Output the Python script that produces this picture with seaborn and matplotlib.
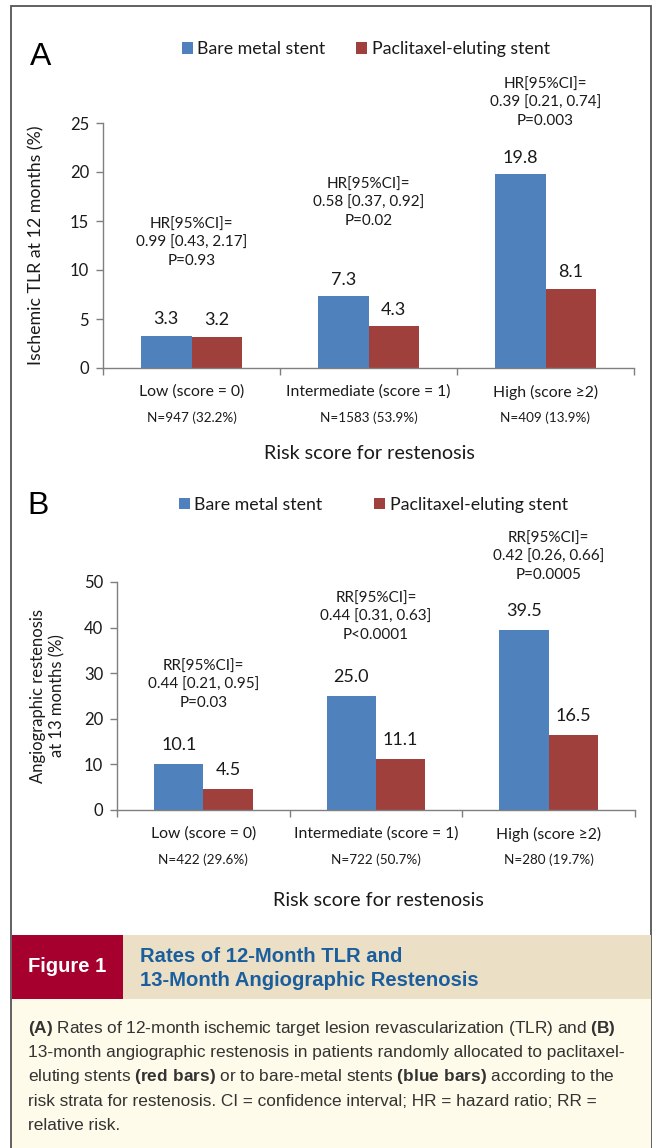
import matplotlib
matplotlib.use("Agg")
import matplotlib.pyplot as plt
import matplotlib.patches as mpatches
import pandas as pd
import seaborn as sns

# ---------------- data ----------------
categories = ["Low (score = 0)", "Intermediate (score = 1)", "High (score \u22652)"]
stents = ["Bare metal stent", "Paclitaxel-eluting stent"]

tlr_bare = [3.3, 7.3, 19.8]
tlr_pes = [3.2, 4.3, 8.1]
n_tlr = ["N=947 (32.2%)", "N=1583 (53.9%)", "N=409 (13.9%)"]
stats_tlr = ["HR[95%CI]=\n0.99 [0.43, 2.17]\nP=0.93",
             "HR[95%CI]=\n0.58 [0.37, 0.92]\nP=0.02",
             "HR[95%CI]=\n0.39 [0.21, 0.74]\nP=0.003"]
yticks_tlr = [0, 5, 10, 15, 20, 25]

rest_bare = [10.1, 25.0, 39.5]
rest_pes = [4.5, 11.1, 16.5]
n_rest = ["N=422 (29.6%)", "N=722 (50.7%)", "N=280 (19.7%)"]
stats_rest = ["RR[95%CI]=\n0.44 [0.21, 0.95]\nP=0.03",
              "RR[95%CI]=\n0.44 [0.31, 0.63]\nP<0.0001",
              "RR[95%CI]=\n0.42 [0.26, 0.66]\nP=0.0005"]
yticks_rest = [0, 10, 20, 30, 40, 50]

caption_title = ["Rates of 12-Month TLR and", "13-Month Angiographic Restenosis"]
caption_body = [
    r"$\mathbf{(A)}$ Rates of 12-month ischemic target lesion revascularization (TLR) and $\mathbf{(B)}$",
    "13-month angiographic restenosis in patients randomly allocated to paclitaxel-",
    r"eluting stents $\mathbf{(red\ bars)}$ or to bare-metal stents $\mathbf{(blue\ bars)}$ according to the",
    "risk strata for restenosis. CI = confidence interval; HR = hazard ratio; RR =",
    "relative risk.",
]

# ---------------- style ----------------
sns.set_style("white")
plt.rcParams['font.family'] = ['Lato', 'DejaVu Sans']
plt.rcParams['mathtext.fontset'] = 'custom'
plt.rcParams['mathtext.rm'] = 'Liberation Sans'
plt.rcParams['mathtext.bf'] = 'Liberation Sans:bold'

BLUE = '#4F81BD'
RED = '#A0403D'
AXC = '#7F7F7F'
TXT = '#1a1a1a'
CAP = ['Liberation Sans', 'DejaVu Sans']

W, H = 656, 1148
fig = plt.figure(figsize=(W / 100, H / 100), dpi=100)
fig.patch.set_facecolor('white')


def fx(x):
    return x / W


def fy(y):
    return 1 - y / H


def rect_px(l, t, r, b):
    return [l / W, 1 - b / H, (r - l) / W, (b - t) / H]


def panel(rect, bare, pes, yticks, ylabel, ylabel_x, ylabel_fs, nlabels,
          stats, stat_y, legend_xy, colspace, xlabel_xy, val_pad):
    ax = fig.add_axes(rect)
    df = pd.DataFrame({
        'risk': categories * 2,
        'value': bare + pes,
        'stent': [stents[0]] * len(bare) + [stents[1]] * len(pes),
    })
    sns.barplot(data=df, x='risk', y='value', hue='stent', order=categories,
                hue_order=stents, palette=[BLUE, RED], width=0.57,
                saturation=1, errorbar=None, linewidth=0, ax=ax)
    ax.set_xlim(-0.5, len(categories) - 0.5)
    ax.set_ylim(yticks[0], yticks[-1])
    ax.set_yticks(yticks)
    ax.set_xticks(range(len(categories)))
    ax.set_xticklabels(categories, fontsize=11.3, color=TXT)
    ax.set_xticks([i - 0.5 for i in range(len(categories) + 1)], minor=True)
    ax.tick_params(axis='x', which='major', bottom=True, length=0, pad=12)
    ax.tick_params(axis='x', which='minor', bottom=True, length=5,
                   direction='out', color=AXC, width=1)
    ax.tick_params(axis='y', left=True, length=5, direction='out', color=AXC,
                   width=1, pad=5, labelsize=12, labelcolor=TXT)
    for s in ['top', 'right']:
        ax.spines[s].set_visible(False)
    for s in ['left', 'bottom']:
        ax.spines[s].set_color(AXC)
        ax.spines[s].set_linewidth(1)

    for c in ax.containers:
        ax.bar_label(c, fmt='%.1f', padding=val_pad, fontsize=13, color=TXT)

    for i, (s, y) in enumerate(zip(stats, stat_y)):
        ax.text(i, y, s, ha='center', va='center', fontsize=11,
                linespacing=1.38, color=TXT, clip_on=False)

    for i, n in enumerate(nlabels):
        ax.annotate(n, xy=(i, 0), xycoords=('data', 'axes fraction'),
                    xytext=(0, -36), textcoords='offset points',
                    ha='center', va='center', fontsize=9.7, color=TXT)

    ax.set_ylabel(ylabel, fontsize=ylabel_fs, color=TXT, va='center',
                  ha='center', linespacing=1.3)
    ax.yaxis.set_label_coords(ylabel_x, 0.5)
    ax.set_xlabel("Risk score for restenosis", fontsize=14.2, color=TXT,
                  va='center', ha='center')
    ax.xaxis.set_label_coords(*xlabel_xy)

    sns.move_legend(ax, 'center', bbox_to_anchor=legend_xy, ncol=2,
                    title=None, frameon=False, fontsize=12.8,
                    handlelength=0.62, handleheight=0.62, handletextpad=0.25,
                    columnspacing=colspace)
    for t in ax.get_legend().get_texts():
        t.set_color(TXT)
    return ax


# ---------------- frame ----------------
fig.patches.append(mpatches.Rectangle((fx(11), fy(1170)), (651 - 11) / W,
                                      (1170 - 6) / H, fill=False,
                                      ec='#555555', lw=1.3,
                                      transform=fig.transFigure, clip_on=False))

# ---------------- panel A ----------------
axA = panel(rect_px(103, 123, 634, 368), tlr_bare, tlr_pes, yticks_tlr,
            "Ischemic TLR at 12 months (%)", -0.126, 12.8, n_tlr, stats_tlr,
            [12.75, 16.85, 27.05], (0.495, 1.302), 1.75, (0.501, -0.347), 6)
fig.text(fx(41), fy(57), "A", fontsize=23, ha='center', va='center',
         family=CAP, color='black')

# ---------------- panel B ----------------
axB = panel(rect_px(117, 582, 635, 810), rest_bare, rest_pes, yticks_rest,
            "Angiographic restenosis\nat 13 months (%)", -0.134, 12, n_rest,
            stats_rest, [27.4, 42.3, 55.5], (0.495, 1.338), 2.9,
            (0.504, -0.399), 8)
fig.text(fx(38), fy(506), "B", fontsize=23, ha='center', va='center',
         family=CAP, color='black')

# ---------------- caption ----------------
fig.patches.append(mpatches.Rectangle((fx(12), fy(1160)), (651 - 12) / W,
                                      (1160 - 999) / H, fc='#FEFBEA', ec='none',
                                      transform=fig.transFigure))
fig.patches.append(mpatches.Rectangle((fx(12), fy(999)), (651 - 12) / W,
                                      (999 - 935) / H, fc='#EBDFC6', ec='none',
                                      transform=fig.transFigure))
fig.patches.append(mpatches.Rectangle((fx(12), fy(999)), (123 - 12) / W,
                                      (999 - 935) / H, fc='#A6002F', ec='none',
                                      transform=fig.transFigure))
fig.text(fx(67), fy(967), "Figure 1", fontsize=14.5, fontweight='bold',
         color='white', ha='center', va='center', family=CAP)
for line, yc in zip(caption_title, [955, 980]):
    fig.text(fx(140), fy(yc + 6.5), line, fontsize=14.6, fontweight='bold',
             color='#1B5E9E', ha='left', va='baseline', family=CAP)
for line, yc in zip(caption_body, [1028, 1052, 1076, 1100, 1124]):
    fig.text(fx(28), fy(yc + 5.5), line, fontsize=12.4, color='#333333',
             ha='left', va='baseline', family=CAP)

fig.savefig("out.png", dpi=100, facecolor='white')
